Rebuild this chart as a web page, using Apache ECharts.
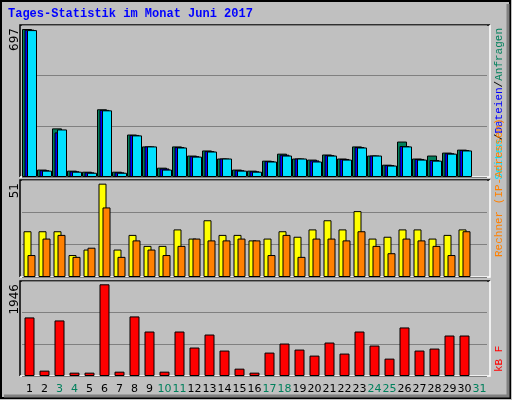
<!DOCTYPE html>
<html>
<head>
<meta charset="utf-8">
<script src="https://cdn.jsdelivr.net/npm/echarts@6/dist/echarts.min.js"></script>
<style>html,body{margin:0;padding:0;background:#c0c0c0}#graph{width:512px;height:400px}</style>
</head>
<body>
<div id="graph"></div>
<script>
var days = [];
for (var d = 1; d <= 31; d++) days.push(String(d));
var weekend = ['3', '4', '10', '11', '17', '18', '24', '25', '31'];

// Anfragen / Dateien / Seiten
var hits  = [697, 35, 229, 30, 25, 319, 25, 200, 144, 44, 144, 101, 125, 87, 35, 30, 77, 110, 87, 82, 106, 87, 144, 101, 58, 167, 87, 101, 115, 129];
var files = [694, 32, 210, 27, 22, 316, 22, 198, 144, 40, 141, 98, 122, 87, 32, 27, 75, 105, 87, 78, 103, 85, 141, 101, 56, 146, 85, 80, 112, 127];
var pages = [692, 30, 224, 25, 20, 314, 20, 196, 144, 35, 139, 96, 120, 87, 30, 25, 73, 101, 87, 73, 101, 82, 139, 101, 54, 144, 82, 77, 110, 125];
// Besuche / Rechner
var visits = [25, 25, 25, 12, 15, 51, 15, 23, 17, 17, 26, 21, 31, 23, 23, 20, 21, 25, 22, 26, 31, 26, 36, 21, 22, 26, 26, 21, 23, 26];
var sites  = [12, 21, 23, 11, 16, 38, 11, 20, 15, 12, 17, 21, 20, 20, 21, 20, 12, 23, 11, 21, 21, 20, 25, 17, 13, 21, 20, 17, 12, 25];
// kB F
var kbytes = [1243, 114, 1179, 71, 71, 1946, 92, 1264, 944, 92, 944, 604, 880, 540, 156, 71, 497, 689, 561, 433, 710, 476, 944, 646, 369, 1030, 540, 582, 859, 859];

var grids = [
  {left: 22, top: 25, width: 465, height: 152},
  {left: 22, top: 180, width: 465, height: 97},
  {left: 22, top: 281, width: 465, height: 95}
];
var maxes = [716, 53, 2016];
var mono = 'Liberation Mono';

function xAx(i) {
  return {
    type: 'category', gridIndex: i, data: days, boundaryGap: true,
    axisLine: {show: false}, axisTick: {show: false},
    axisLabel: i < 2 ? {show: false} : {
      show: true, margin: 8, fontFamily: 'DejaVu Sans', fontSize: 11, interval: 0,
      color: function (v) { return weekend.indexOf(v) >= 0 ? '#00805c' : '#000'; }
    }
  };
}
function yAx(i) {
  return {
    type: 'value', gridIndex: i, min: 0, max: maxes[i], interval: maxes[i] / 3,
    axisLabel: {show: false}, axisLine: {show: false}, axisTick: {show: false},
    splitLine: {lineStyle: {color: '#808080', width: 1}}
  };
}
function bar(name, data, i, color, w, gap) {
  return {
    name: name, type: 'bar', data: data, xAxisIndex: i, yAxisIndex: i,
    barWidth: w, barGap: gap, silent: true,
    itemStyle: {color: color, borderColor: '#000', borderWidth: 1}
  };
}

var frames = [];
grids.forEach(function (g) {
  var x0 = 20, y0 = g.top, x1 = 490, y1 = g.top + g.height;
  frames.push({type: 'polyline', shape: {points: [[x0, y1], [x0, y0], [x1, y0]]}, style: {stroke: '#000', lineWidth: 1.5, fill: null}});
  frames.push({type: 'polyline', shape: {points: [[x1, y0], [x1, y1], [x0, y1]]}, style: {stroke: '#fff', lineWidth: 1.5, fill: null}});
});

var chart = echarts.init(document.getElementById('graph'));
chart.setOption({
  animation: false,
  backgroundColor: '#c0c0c0',
  grid: grids,
  xAxis: [xAx(0), xAx(1), xAx(2)],
  yAxis: [yAx(0), yAx(1), yAx(2)],
  series: [
    bar('Anfragen', hits, 0, '#00805c', 10, '-75%'),
    bar('Dateien', files, 0, '#0000ff', 10, '-75%'),
    bar('Seiten', pages, 0, '#00e0ff', 10, '-75%'),
    bar('Besuche', visits, 1, '#ffff00', 8, '-50%'),
    bar('Rechner', sites, 1, '#ff8000', 8, '-50%'),
    bar('kB F', kbytes, 2, '#ff0000', 10, '0%')
  ],
  graphic: frames.concat([
    {type: 'rect', shape: {x: 1, y: 1, width: 509, height: 397}, style: {fill: null, stroke: '#000', lineWidth: 2}},
    {type: 'polyline', shape: {points: [[4, 396], [508, 396], [508, 4]]}, style: {stroke: '#808080', lineWidth: 3, fill: null}},
    {type: 'text', x: 8, y: 8, style: {text: 'Tages-Statistik im Monat Juni 2017', font: 'bold 12px ' + mono, fill: '#0000ff'}},
    {type: 'text', x: 9, y: 28, rotation: Math.PI / 2, style: {text: '697', font: '12px DejaVu Sans', fill: '#000', textAlign: 'right', textVerticalAlign: 'top'}},
    {type: 'text', x: 9, y: 183, rotation: Math.PI / 2, style: {text: '51', font: '12px DejaVu Sans', fill: '#000', textAlign: 'right', textVerticalAlign: 'top'}},
    {type: 'text', x: 9, y: 284, rotation: Math.PI / 2, style: {text: '1946', font: '12px DejaVu Sans', fill: '#000', textAlign: 'right', textVerticalAlign: 'top'}},
    {type: 'text', x: 494, y: 28, rotation: Math.PI / 2,
      style: {text: '{c|Seiten}/{b|Dateien}/{g|Anfragen}', font: '11px ' + mono, fill: '#000', textAlign: 'right', textVerticalAlign: 'top',
        rich: {c: {fill: '#00e0ff', font: '11px ' + mono}, b: {fill: '#0000ff', font: '11px ' + mono}, g: {fill: '#00805c', font: '11px ' + mono}}}},
    {type: 'text', x: 494, y: 257, rotation: Math.PI / 2, style: {text: 'Rechner (IP-Adressen)', font: '11px ' + mono, fill: '#ff8000', textAlign: 'left', textVerticalAlign: 'top'}},
    {type: 'text', x: 494, y: 372, rotation: Math.PI / 2, style: {text: 'kB F', font: '11px ' + mono, fill: '#ff0000', textAlign: 'left', textVerticalAlign: 'top'}}
  ])
});
</script>
</body>
</html>
